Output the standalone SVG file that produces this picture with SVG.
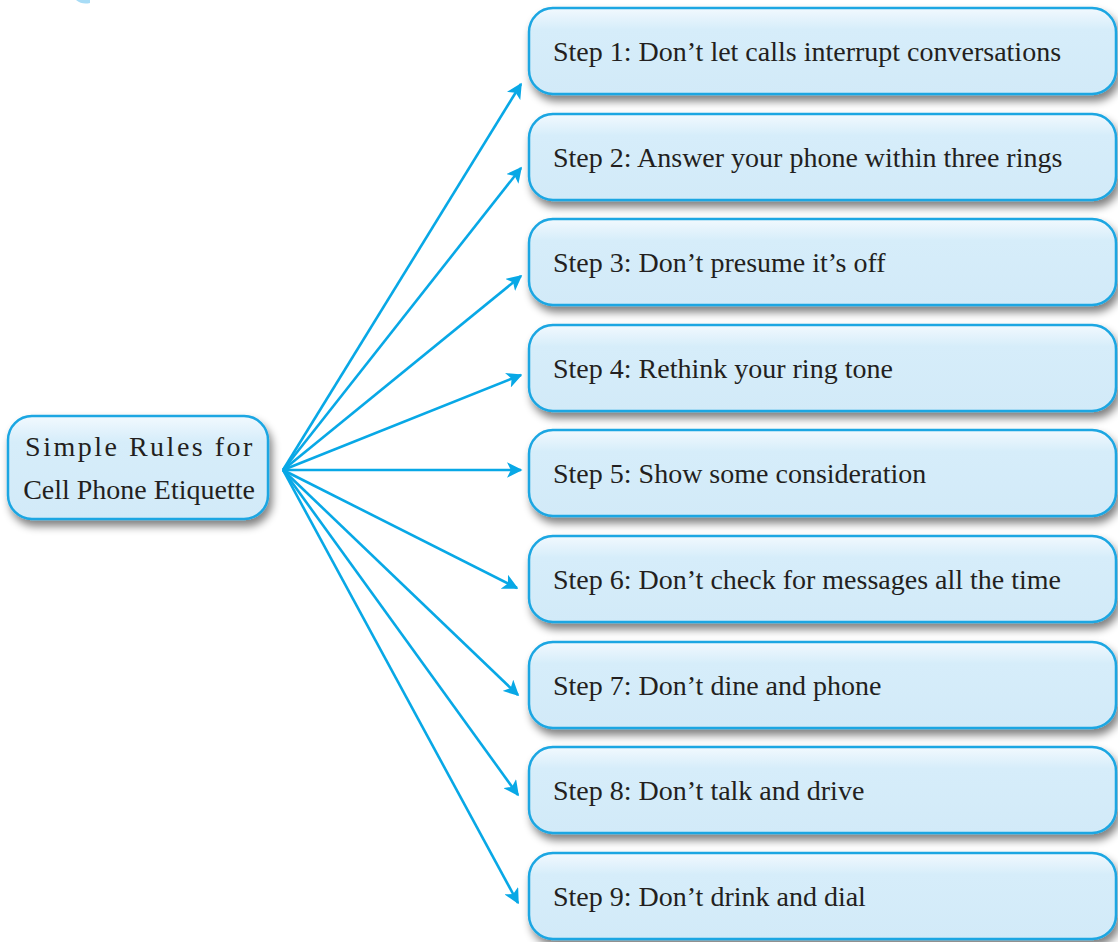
<svg xmlns="http://www.w3.org/2000/svg" width="1118" height="942" viewBox="0 0 1118 942">
<defs>
<linearGradient id="fill" x1="0" y1="0" x2="0" y2="1">
<stop offset="0" stop-color="#f2f9fe"/>
<stop offset="0.25" stop-color="#d6edfa"/>
<stop offset="1" stop-color="#d2eaf8"/>
</linearGradient>
<filter id="sh" x="-10%" y="-20%" width="120%" height="150%">
<feGaussianBlur in="SourceAlpha" stdDeviation="4"/>
<feOffset dx="3" dy="6" result="b"/>
<feComponentTransfer><feFuncA type="linear" slope="0.5"/></feComponentTransfer>
<feMerge><feMergeNode/><feMergeNode in="SourceGraphic"/></feMerge>
</filter>
<marker id="ah" viewBox="0 0 10 10" refX="9" refY="5" markerWidth="6" markerHeight="6" markerUnits="strokeWidth" orient="auto">
<path d="M0,0 L10,5 L0,10 L2.5,5 Z" fill="#08a8e6"/>
</marker>
</defs>
<style>
.box{fill:url(#fill);stroke:#1aa6e2;stroke-width:2.5;filter:url(#sh)}
.t{font-family:"Liberation Serif","Times New Roman",serif;font-size:28px;fill:#231f20}
.c{stroke:#08a8e6;stroke-width:2.6;fill:none;marker-end:url(#ah)}
</style>
<rect width="1118" height="942" fill="#ffffff"/>
<path d="M76,0 Q82,5 90,3 L90,0 Z" fill="#a8dcf6"/>
<g id="connectors">
<line class="c" x1="283" y1="470" x2="521" y2="84"/>
<line class="c" x1="283" y1="470" x2="521" y2="168"/>
<line class="c" x1="283" y1="470" x2="521" y2="276"/>
<line class="c" x1="283" y1="470" x2="521" y2="375"/>
<line class="c" x1="283" y1="470" x2="521" y2="470"/>
<line class="c" x1="283" y1="470" x2="517" y2="588"/>
<line class="c" x1="283" y1="470" x2="518" y2="695"/>
<line class="c" x1="283" y1="470" x2="518" y2="795"/>
<line class="c" x1="283" y1="470" x2="518" y2="903"/>
</g>
<g id="root">
<rect class="box" x="8" y="416" width="260" height="103" rx="24"/>
<text class="t" x="140" y="456" text-anchor="middle" letter-spacing="2.5">Simple Rules for</text>
<text class="t" x="139" y="499" text-anchor="middle">Cell Phone Etiquette</text>
</g>
<g id="step1"><rect class="box" x="529" y="8" width="587" height="86" rx="24"/><text class="t" x="553" y="61">Step 1: Don’t let calls interrupt conversations</text></g>
<g id="step2"><rect class="box" x="529" y="114" width="587" height="86" rx="24"/><text class="t" x="553" y="167">Step 2: Answer your phone within three rings</text></g>
<g id="step3"><rect class="box" x="529" y="219" width="587" height="86" rx="24"/><text class="t" x="553" y="272">Step 3: Don’t presume it’s off</text></g>
<g id="step4"><rect class="box" x="529" y="325" width="587" height="86" rx="24"/><text class="t" x="553" y="378">Step 4: Rethink your ring tone</text></g>
<g id="step5"><rect class="box" x="529" y="430" width="587" height="86" rx="24"/><text class="t" x="553" y="483">Step 5: Show some consideration</text></g>
<g id="step6"><rect class="box" x="529" y="536" width="587" height="86" rx="24"/><text class="t" x="553" y="589">Step 6: Don’t check for messages all the time</text></g>
<g id="step7"><rect class="box" x="529" y="642" width="587" height="86" rx="24"/><text class="t" x="553" y="695">Step 7: Don’t dine and phone</text></g>
<g id="step8"><rect class="box" x="529" y="747" width="587" height="86" rx="24"/><text class="t" x="553" y="800">Step 8: Don’t talk and drive</text></g>
<g id="step9"><rect class="box" x="529" y="853" width="587" height="86" rx="24"/><text class="t" x="553" y="906">Step 9: Don’t drink and dial</text></g>
</svg>
